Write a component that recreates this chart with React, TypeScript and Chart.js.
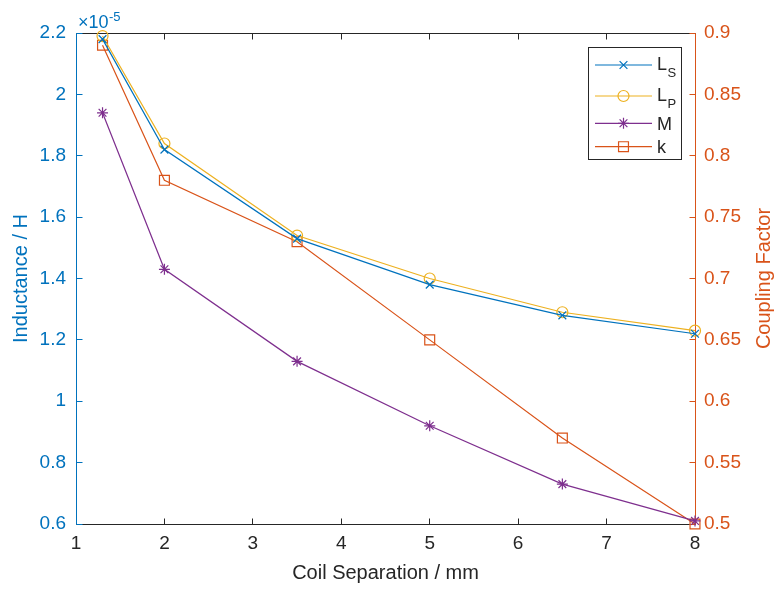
import React, { useEffect, useRef } from 'react';
import { Chart, registerables } from 'chart.js';
import { drawPoint } from 'chart.js/helpers';

Chart.register(...registerables);

// ---------- data ----------
const separation = [1.3, 2, 3.5, 5, 6.5, 8]; // mm
const inductanceLs = [2.18, 1.82, 1.53, 1.38, 1.28, 1.22]; // ×1e-5 H
const inductanceLp = [2.19, 1.84, 1.54, 1.4, 1.29, 1.23]; // ×1e-5 H
const mutualM = [1.94, 1.43, 1.13, 0.92, 0.73, 0.61]; // ×1e-5 H
const couplingK = [0.89, 0.78, 0.73, 0.65, 0.57, 0.5];
const seriesLabels = ['L_S', 'L_P', 'M', 'k'];
const xTicks = [1, 2, 3, 4, 5, 6, 7, 8];
const leftTicks = [0.6, 0.8, 1, 1.2, 1.4, 1.6, 1.8, 2, 2.2];
const rightTicks = [0.5, 0.55, 0.6, 0.65, 0.7, 0.75, 0.8, 0.85, 0.9];
const leftExponentLabel = ['×10', '-5'];
const rightAxisTitle = 'Coupling Factor';

// ---------- styles ----------
const FONT = 'Liberation Sans, Arial, Helvetica, sans-serif';
const DARK = '#262626';
const BLUE = '#0072BD';
const ORANGE = '#D95319';
const YELLOW = '#EDB120';
const PURPLE = '#7E2F8E';
const TICK = 6;

const toPoints = (ys: number[]) => separation.map((x, i) => ({ x, y: ys[i] }));

const axesPlugin = {
  id: 'matlabAxes',
  beforeDatasetsDraw(chart: any) {
    const { ctx, chartArea: a } = chart;
    const xs = chart.scales.x;
    const yl = chart.scales.y;
    const yr = chart.scales.y1;
    const l = Math.floor(a.left) + 0.5;
    const r = Math.floor(a.right) + 0.5;
    const t = Math.floor(a.top) + 0.5;
    const b = Math.floor(a.bottom) + 0.5;
    ctx.save();
    ctx.lineWidth = 1;
    ctx.strokeStyle = DARK;
    ctx.beginPath();
    ctx.moveTo(l, b);
    ctx.lineTo(r, b);
    ctx.moveTo(l, t);
    ctx.lineTo(r, t);
    xs.ticks.forEach((tk: any) => {
      const px = Math.floor(xs.getPixelForValue(tk.value)) + 0.5;
      ctx.moveTo(px, b);
      ctx.lineTo(px, b - TICK);
      ctx.moveTo(px, t);
      ctx.lineTo(px, t + TICK);
    });
    ctx.stroke();

    ctx.strokeStyle = BLUE;
    ctx.beginPath();
    ctx.moveTo(l, t);
    ctx.lineTo(l, b);
    yl.ticks.forEach((tk: any) => {
      const py = Math.floor(yl.getPixelForValue(tk.value)) + 0.5;
      ctx.moveTo(l, py);
      ctx.lineTo(l + TICK, py);
    });
    ctx.stroke();

    ctx.strokeStyle = ORANGE;
    ctx.beginPath();
    ctx.moveTo(r, t);
    ctx.lineTo(r, b);
    yr.ticks.forEach((tk: any) => {
      const py = Math.floor(yr.getPixelForValue(tk.value)) + 0.5;
      ctx.moveTo(r, py);
      ctx.lineTo(r - TICK, py);
    });
    ctx.stroke();
    ctx.restore();
  },
  afterDraw(chart: any) {
    const { ctx, chartArea: a } = chart;
    ctx.save();
    ctx.fillStyle = BLUE;
    ctx.textBaseline = 'alphabetic';
    ctx.textAlign = 'left';
    ctx.font = `18px ${FONT}`;
    const x0 = a.left + 2;
    ctx.fillText(leftExponentLabel[0], x0, a.top - 5);
    const w = ctx.measureText(leftExponentLabel[0]).width;
    ctx.font = `13px ${FONT}`;
    ctx.fillText(leftExponentLabel[1], x0 + w + 0.5, a.top - 12);
    ctx.restore();

    // right axis title, reading bottom-to-top like MATLAB
    const yr = chart.scales.y1;
    ctx.save();
    ctx.fillStyle = ORANGE;
    ctx.font = `20px ${FONT}`;
    ctx.textAlign = 'center';
    ctx.textBaseline = 'middle';
    ctx.translate(yr.right - 12, (a.top + a.bottom) / 2);
    ctx.rotate(-Math.PI / 2);
    ctx.fillText(rightAxisTitle, 0, 0);
    ctx.restore();
  },
};

const legendRowOffsets = [18, 49, 76.3, 99.7];

const legendPlugin = {
  id: 'matlabLegend',
  afterDatasetsDraw(chart: any) {
    const { ctx } = chart;
    const bx = 588;
    const by = 47;
    const bw = 94;
    const bh = 113;
    ctx.save();
    ctx.fillStyle = '#ffffff';
    ctx.fillRect(bx, by, bw, bh);
    ctx.strokeStyle = DARK;
    ctx.lineWidth = 1;
    ctx.strokeRect(bx + 0.5, by + 0.5, bw - 1, bh - 1);
    chart.data.datasets.forEach((ds: any, i: number) => {
      const y = by + legendRowOffsets[i];
      ctx.strokeStyle = ds.borderColor;
      ctx.lineWidth = ds.borderWidth;
      ctx.beginPath();
      ctx.moveTo(595, y);
      ctx.lineTo(652, y);
      ctx.stroke();
      ctx.fillStyle = 'rgba(0,0,0,0)';
      drawPoint(ctx, {
        pointStyle: ds.pointStyle,
        radius: ds.pointRadius,
        borderWidth: ds.pointBorderWidth,
        rotation: 0,
      } as any, 623.5, y);
      const label: string = ds.label;
      ctx.fillStyle = DARK;
      ctx.textAlign = 'left';
      ctx.textBaseline = 'alphabetic';
      if (label.includes('_')) {
        const [main, sub] = label.split('_');
        ctx.font = `18px ${FONT}`;
        ctx.fillText(main, 657, y + 4.5);
        const mw = ctx.measureText(main).width;
        ctx.font = `13px ${FONT}`;
        ctx.fillText(sub, 657 + mw + 0.5, y + 12);
      } else {
        ctx.font = `18px ${FONT}`;
        ctx.fillText(label, 657, y + 6.5);
      }
    });
    ctx.restore();
  },
};

export default function App() {
  const canvasRef = useRef<HTMLCanvasElement | null>(null);

  useEffect(() => {
    document.body.style.margin = '0';
    const canvas = canvasRef.current;
    if (!canvas) return;
    const common = {
      fill: false,
      borderWidth: 1.2,
      pointBorderWidth: 1.2,
      pointBackgroundColor: 'rgba(0,0,0,0)',
      backgroundColor: 'rgba(0,0,0,0)',
      tension: 0,
      clip: false as any,
    };
    const chart = new Chart(canvas, {
      type: 'line',
      data: {
        datasets: [
          {
            ...common,
            label: seriesLabels[0],
            data: toPoints(inductanceLs),
            borderColor: BLUE,
            pointBorderColor: BLUE,
            pointStyle: 'crossRot',
            pointRadius: 5.5,
            yAxisID: 'y',
          },
          {
            ...common,
            label: seriesLabels[1],
            data: toPoints(inductanceLp),
            borderColor: YELLOW,
            pointBorderColor: YELLOW,
            pointStyle: 'circle',
            pointRadius: 5.5,
            yAxisID: 'y',
          },
          {
            ...common,
            label: seriesLabels[2],
            data: toPoints(mutualM),
            borderColor: PURPLE,
            pointBorderColor: PURPLE,
            pointStyle: 'star',
            pointRadius: 5.5,
            yAxisID: 'y',
          },
          {
            ...common,
            label: seriesLabels[3],
            data: toPoints(couplingK),
            borderColor: ORANGE,
            pointBorderColor: ORANGE,
            pointStyle: 'rect',
            pointRadius: 7,
            yAxisID: 'y1',
          },
        ] as any,
      },
      options: {
        animation: false,
        responsive: false,
        devicePixelRatio: 1,
        layout: { padding: { top: 33, left: 0, right: 0, bottom: 0 } },
        plugins: {
          legend: { display: false },
          tooltip: { enabled: false },
        },
        scales: {
          x: {
            type: 'linear',
            position: 'bottom',
            min: 1,
            max: 8,
            afterBuildTicks: (s: any) => {
              s.ticks = xTicks.map((v) => ({ value: v }));
            },
            afterFit: (s: any) => {
              s.height = 65;
            },
            grid: { display: false, drawTicks: false },
            border: { display: false },
            ticks: {
              color: DARK,
              font: { family: FONT, size: 19 },
              padding: 8,
              maxRotation: 0,
              autoSkip: false,
              callback: (v: any) => String(v),
            },
            title: {
              display: true,
              text: 'Coil Separation / mm',
              color: DARK,
              font: { family: FONT, size: 20 },
              padding: { top: 0, bottom: 4 },
            },
          },
          y: {
            type: 'linear',
            position: 'left',
            min: 0.6,
            max: 2.2,
            afterBuildTicks: (s: any) => {
              s.ticks = leftTicks.map((v) => ({ value: v }));
            },
            afterFit: (s: any) => {
              s.width = 76;
            },
            grid: { display: false, drawTicks: false },
            border: { display: false },
            ticks: {
              color: BLUE,
              font: { family: FONT, size: 19 },
              padding: 10,
              autoSkip: false,
              callback: (v: any) => String(Number(Number(v).toFixed(2))),
            },
            title: {
              display: true,
              text: 'Inductance / H',
              color: BLUE,
              font: { family: FONT, size: 20 },
              padding: { top: 9, bottom: 0 },
            },
          },
          y1: {
            type: 'linear',
            position: 'right',
            min: 0.5,
            max: 0.9,
            afterBuildTicks: (s: any) => {
              s.ticks = rightTicks.map((v) => ({ value: v }));
            },
            afterFit: (s: any) => {
              s.width = 81;
            },
            grid: { display: false, drawTicks: false },
            border: { display: false },
            ticks: {
              color: ORANGE,
              font: { family: FONT, size: 19 },
              padding: 9,
              autoSkip: false,
              callback: (v: any) => String(Number(Number(v).toFixed(2))),
            },
            title: { display: false },
          },
        },
      } as any,
      plugins: [axesPlugin, legendPlugin],
    });
    return () => chart.destroy();
  }, []);

  return (
    <div style={{ position: 'absolute', left: 0, top: 0, width: 776, height: 589, background: '#fff' }}>
      <canvas ref={canvasRef} width={776} height={589} style={{ display: 'block', width: 776, height: 589 }} />
    </div>
  );
}
